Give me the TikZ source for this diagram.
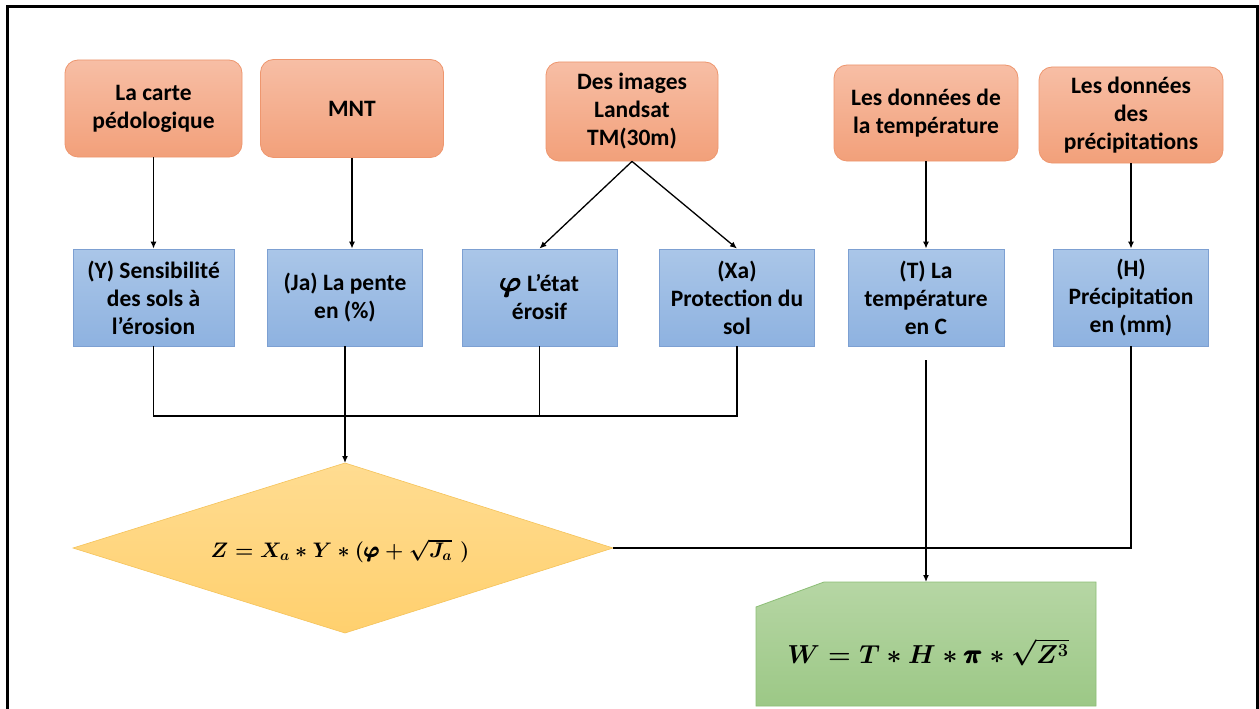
\documentclass[tikz,border=0pt]{standalone}
\usepackage{fix-cm}
\usepackage[no-math]{fontspec}
\setmainfont{Carlito}
\usepackage{amsmath}
\usetikzlibrary{arrows.meta,calc}
\definecolor{orTop}{RGB}{247,190,165}
\definecolor{orBot}{RGB}{242,160,122}
\definecolor{orLine}{RGB}{238,150,110}
\definecolor{blTop}{RGB}{170,198,232}
\definecolor{blBot}{RGB}{142,178,224}
\definecolor{blLine}{RGB}{125,160,210}
\definecolor{ylTop}{RGB}{255,220,145}
\definecolor{ylBot}{RGB}{255,208,110}
\definecolor{ylLine}{RGB}{245,195,90}
\definecolor{grTop}{RGB}{182,214,164}
\definecolor{grBot}{RGB}{156,200,134}
\definecolor{grLine}{RGB}{140,190,118}
\newcommand{\apos}{\symbol{39}}
\newsavebox{\zeqbox}
\newsavebox{\weqbox}
\newsavebox{\phibox}
\AtBeginDocument{%
  \sbox{\zeqbox}{\fontsize{21}{25}\selectfont\boldmath$Z = X_a \ast Y \ast (\pmb{\varphi} + \sqrt{J_a}\,\,)$}%
  \sbox{\weqbox}{\fontsize{26}{31}\selectfont\boldmath$W = T \ast H \ast \pmb{\pi} \ast \sqrt{Z^{3}}$}%
  \sbox{\phibox}{\fontsize{29}{29}\selectfont\boldmath$\pmb{\varphi}$}%
}
\tikzset{
  srcbox/.style={rectangle, rounded corners=13pt, draw=orLine, line width=0.8pt,
    top color=orTop, bottom color=orBot, align=center, inner sep=2pt,
    font=\fontsize{23.5}{28}\selectfont\bfseries},
  varbox/.style={rectangle, draw=blLine, line width=0.8pt,
    top color=blTop, bottom color=blBot, align=center, inner sep=2pt,
    font=\fontsize{23.5}{28}\selectfont\bfseries},
  conn/.style={line width=1.3pt, black},
  arr/.style={conn, -{Latex[length=7pt,width=6pt]}},
}
\begin{document}
\begin{tikzpicture}[x=1pt,y=-1pt]
\useasboundingbox (0,0) rectangle (1259,709);
\fill[white] (0,0) rectangle (1259,709);
\draw[line width=3pt] (7,709) -- (7,7) -- (1257,7) -- (1257,709);

% source boxes
\node[srcbox, minimum width=177pt, minimum height=97pt] (o1) at (153.5,108.5) {La carte\\pédologique};
\node[srcbox, minimum width=183pt, minimum height=98pt] (o2) at (352,108.5) {MNT};
\node[srcbox, minimum width=172pt, minimum height=99pt] (o3) at (632,111.5) {Des images\\Landsat\\TM(30m)};
\node[srcbox, minimum width=184pt, minimum height=96pt] (o4) at (926,113) {Les données de\\la température};
\node[srcbox, minimum width=184pt, minimum height=96pt] (o5) at (1131,115) {Les données\\des\\précipitations};

% variable boxes
\node[varbox, minimum width=161pt, minimum height=97pt] (b1) at (153.5,297.5) {(Y) Sensibilité\\des sols à\\l\apos érosion};
\node[varbox, minimum width=155pt, minimum height=97pt] (b2) at (345,297.5) {(Ja) La pente\\en (\%)};
\node[varbox, minimum width=155pt, minimum height=97pt] (b3) at (539.5,297.5) {\usebox{\phibox} L\apos état\\érosif};
\node[varbox, minimum width=155pt, minimum height=97pt] (b4) at (737,297.5) {(Xa)\\Protection du\\sol};
\node[varbox, minimum width=156pt, minimum height=97pt] (b5) at (926,297.5) {(T) La\\température\\en C};
\node[varbox, minimum width=155pt, minimum height=97pt] (b6) at (1131,297.5) {(H)\\Précipitation\\en (mm)};

% decision diamond
\coordinate (dN) at (345,463);
\coordinate (dE) at (613,548);
\coordinate (dS) at (345,633);
\coordinate (dW) at (73,548);
\shade[top color=ylTop, bottom color=ylBot, draw=ylLine, line width=0.6pt]
  (dN) -- (dE) -- (dS) -- (dW) -- cycle;
\node[inner sep=0pt] (dz) at (340,551) {\usebox{\zeqbox}};

% result box
\coordinate (gNW) at (756,582);
\coordinate (gSE) at (1096,706);
\coordinate (gN) at (926,582);
\shade[top color=grTop, bottom color=grBot, draw=grLine, line width=0.8pt]
  (gNW |- gSE) -- ($(gNW)+(0,25)$) -- ($(gNW)+(68,0)$)
  -- (gSE |- gNW) -- (gSE) -- cycle;
\node[inner sep=0pt] (g) at (928,652) {\usebox{\weqbox}};

% arrows from sources
\draw[arr] (o1.south) -- (b1.north);
\draw[arr] (o2.south) -- (o2.south |- b2.north);
\draw[arr] (o3.south) -- (b3.north);
\draw[arr] (o3.south) -- (b4.north);
\draw[arr] (o4.south) -- (b5.north);
\draw[arr] (o5.south) -- (b6.north);

% bus
\coordinate (bus) at (345,416);
\draw[conn] (b1.south) |- (b4.south |- bus) -- (b4.south);
\draw[conn] (b3.south) -- (b3.south |- bus);
\draw[arr] (b2.south) -- (dN);

% right part
\coordinate (j2) at (b5.south |- dE);
\draw[conn] (dE) -- (j2);
\draw[conn] (b6.south) |- (j2);
\draw[arr, shorten <=14pt] (b5.south) -- (gN);
\end{tikzpicture}
\end{document}
